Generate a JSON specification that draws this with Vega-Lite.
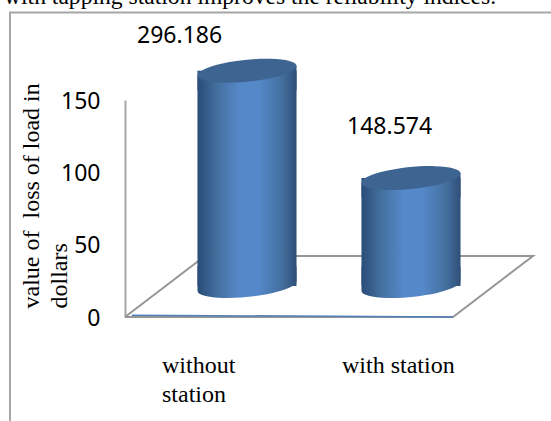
{
"$schema":"https://vega.github.io/schema/vega-lite/v6.json",
"width":551,"height":421,"padding":0,"autosize":{"type":"none"},"background":"white",
"config":{"view":{"stroke":null}},
"title":{"text":"with tapping station improves the reliability indices.","font":"Liberation Serif","fontSize":23.6,"fontWeight":"normal","color":"#000000","anchor":"start","frame":"group","orient":"top","offset":-28,"dx":4,"baseline":"alphabetic"},
"datasets":{
"bars":[{"category":"without station","value":296.186},{"category":"with station","value":148.574}],
"frame":[{"u":0,"v":0},{"u":0,"v":1},{"u":1,"v":1}],
"floor":[{"u":0,"v":0},{"u":0.804,"v":0},{"u":1,"v":1},{"u":0.196,"v":1},{"u":0,"v":0}],
"front":[{"u":0.017,"v":0.03},{"u":0.804,"v":0}],
"labels":[{"lines":["without","station"],"category":"without station"},{"lines":["with station"],"category":"with station"}]
},
"resolve":{"scale":{"x":"independent","y":"independent"},"axis":{"y":"independent"}},
"layer":[
{"data":{"name":"frame"},"mark":{"type":"line","stroke":"#a6a6a6","strokeWidth":2},
 "encoding":{"x":{"field":"u","type":"quantitative","axis":null,"scale":{"domain":[0,1],"range":[10,552]}},
 "y":{"field":"v","type":"quantitative","axis":null,"scale":{"domain":[0,1],"range":[421,12.5]}},"order":{"field":"v"}}},
{"data":{"name":"floor"},"mark":{"type":"line","stroke":"#969696","strokeWidth":2,"order":false},
 "encoding":{"x":{"field":"u","type":"quantitative","axis":null,"scale":{"domain":[0,1],"range":[125,533]}},
 "y":{"field":"v","type":"quantitative","axis":null,"scale":{"domain":[0,1],"range":[317,256]}}}},
{"data":{"name":"front"},"mark":{"type":"line","stroke":"#4f81bd","strokeWidth":1.5,"order":false},
 "encoding":{"x":{"field":"u","type":"quantitative","axis":null,"scale":{"domain":[0,1],"range":[125,533]}},
 "y":{"field":"v","type":"quantitative","axis":null,"scale":{"domain":[0,1],"range":[317,256]}}}},
{"data":{"name":"bars"},"mark":{"type":"point","opacity":0},
 "encoding":{"y":{"datum":0,"type":"quantitative","scale":{"domain":[0,150],"range":[317,100]},
 "axis":{"values":[0,50,100,150],"ticks":false,"grid":false,"offset":-125,"labelPadding":25,"labelOffset":1,"labelFont":"Noto Sans","labelFontSize":23,"labelColor":"#000000","domainColor":"#a6a6a6","domainWidth":2,
 "title":["value of \u00a0loss of load in","dollars"],"titleFont":"Liberation Serif","titleFontSize":24,"titleFontWeight":"normal","titleColor":"#000000","titleAngle":270,"titleAlign":"left","titleBaseline":"alphabetic","titleX":-87,"titleY":308,"titleLineHeight":28}}}},
{"data":{"name":"bars"},"mark":{"type":"point","filled":true,"opacity":1,"size":9801,"shape":"M-1,-0.4L1,-0.4L1,-0.1A1.005,0.22,-5.7,1,1,-1,0.1Z",
 "fill":{"gradient":"linear","x1":0,"x2":1,"y1":0,"y2":0,"stops":[{"offset":0,"color":"#2a4c78"},{"offset":0.2,"color":"#44709f"},{"offset":0.42,"color":"#5588c8"},{"offset":0.62,"color":"#5588c8"},{"offset":0.85,"color":"#44709f"},{"offset":1,"color":"#2f5078"}]}},
 "encoding":{"x":{"field":"category","type":"nominal","sort":null,"axis":null,"scale":{"domain":["without station","with station"],"range":[165,493],"paddingInner":0.396,"paddingOuter":0.198}},
 "y":{"datum":0,"type":"quantitative","axis":null,"scale":{"domain":[0,300],"range":[286,68]}}}},
{"data":{"name":"bars"},"mark":{"type":"bar",
 "fill":{"gradient":"linear","x1":0,"x2":1,"y1":0,"y2":0,"stops":[{"offset":0,"color":"#2a4c78"},{"offset":0.2,"color":"#44709f"},{"offset":0.42,"color":"#5588c8"},{"offset":0.62,"color":"#5588c8"},{"offset":0.85,"color":"#44709f"},{"offset":1,"color":"#2f5078"}]}},
 "encoding":{"x":{"field":"category","type":"nominal","sort":null,"axis":null,"scale":{"domain":["without station","with station"],"range":[165,493],"paddingInner":0.396,"paddingOuter":0.198}},
 "y":{"field":"value","type":"quantitative","axis":null,"scale":{"domain":[0,300],"range":[286,68]}}}},
{"data":{"name":"bars"},"mark":{"type":"point","filled":true,"opacity":1,"size":9801,"shape":"M-1,0.1L1,-0.1L1,0.4L-1,0.4Z",
 "fill":{"gradient":"linear","x1":0,"x2":1,"y1":0,"y2":0,"stops":[{"offset":0,"color":"#2a4c78"},{"offset":0.2,"color":"#44709f"},{"offset":0.42,"color":"#5588c8"},{"offset":0.62,"color":"#5588c8"},{"offset":0.85,"color":"#44709f"},{"offset":1,"color":"#2f5078"}]}},
 "encoding":{"x":{"field":"category","type":"nominal","sort":null,"axis":null,"scale":{"domain":["without station","with station"],"range":[165,493],"paddingInner":0.396,"paddingOuter":0.198}},
 "y":{"field":"value","type":"quantitative","axis":null,"scale":{"domain":[0,300],"range":[286,68]}}}},
{"data":{"name":"bars"},"mark":{"type":"point","filled":true,"opacity":1,"size":9801,"fill":"#3e6592","shape":"M-1,0.1A1.005,0.22,-5.7,1,1,1,-0.1A1.005,0.22,-5.7,1,1,-1,0.1Z"},
 "encoding":{"x":{"field":"category","type":"nominal","sort":null,"axis":null,"scale":{"domain":["without station","with station"],"range":[165,493],"paddingInner":0.396,"paddingOuter":0.198}},
 "y":{"field":"value","type":"quantitative","axis":null,"scale":{"domain":[0,300],"range":[286,68]}}}},
{"data":{"name":"bars"},"mark":{"type":"text","font":"Noto Sans","fontSize":23,"align":"left","baseline":"middle","color":"#000000"},
 "encoding":{"x":{"field":"category","type":"nominal","sort":null,"axis":null,"scale":{"type":"point","padding":0,"domain":["without station","with station"],"range":[137,347]}},
 "y":{"field":"value","type":"quantitative","axis":null,"scale":{"domain":[148.574,296.186],"range":[127,36]}},
 "text":{"field":"value","type":"quantitative","format":".3f"}}},
{"data":{"name":"labels"},"mark":{"type":"text","font":"Liberation Serif","fontSize":24,"align":"left","baseline":"alphabetic","lineHeight":29,"color":"#000000"},
 "encoding":{"x":{"field":"category","type":"nominal","sort":null,"axis":null,"scale":{"type":"point","padding":0,"domain":["without station","with station"],"range":[162,342]}},
 "y":{"datum":0,"type":"quantitative","axis":null,"scale":{"domain":[0,1],"range":[373,300]}},
 "text":{"field":"lines"}}}
]
}
